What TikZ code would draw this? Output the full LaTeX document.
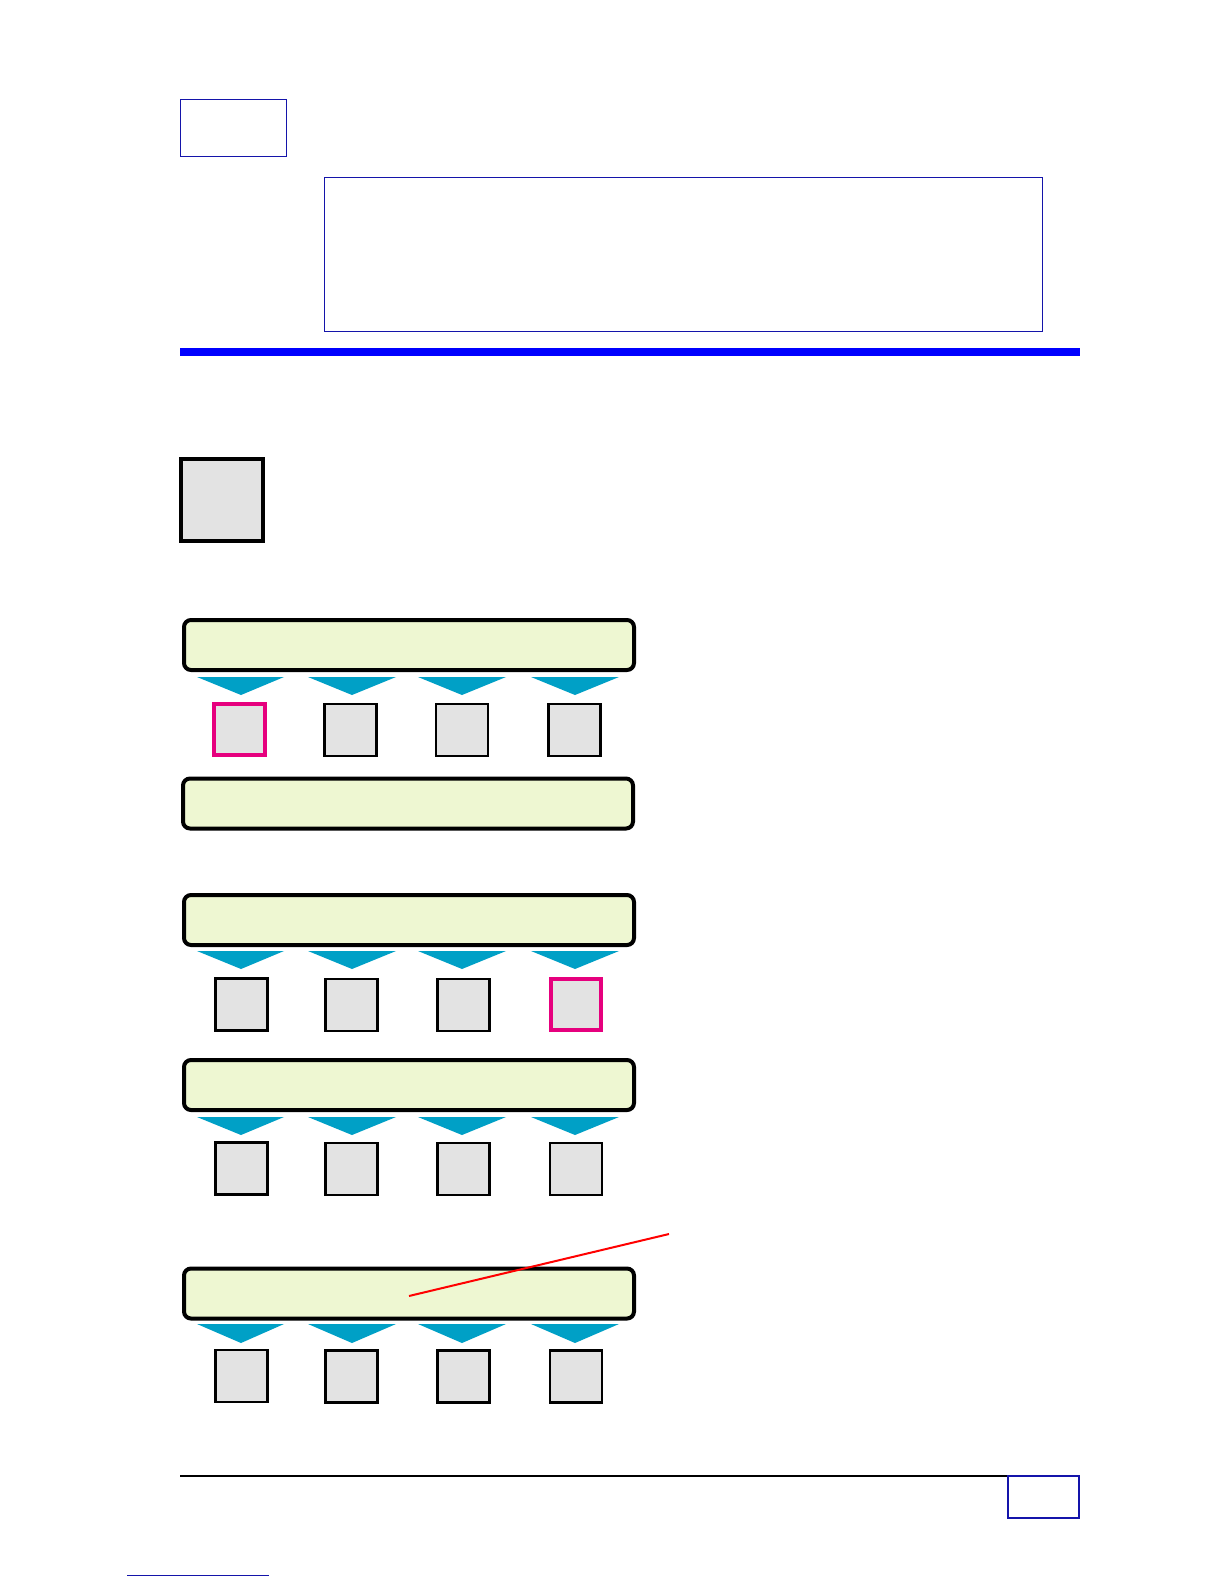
\documentclass[tikz,border=0pt]{standalone}
\begin{document}
\begin{tikzpicture}[x=1pt,y=-1pt,
  bluebox/.style={draw=frameblue,line width=1.3pt,inner sep=0pt,fill=white},
  bar/.style={draw=black,line width=4pt,rounded corners=7pt,fill=barfill,minimum width=450pt,minimum height=50pt,inner sep=0pt},
  cell/.style={draw=black,line width=2.5pt,fill=cellgray,minimum width=52pt,minimum height=52pt,inner sep=0pt},
  hot/.style={cell,draw=hotpink,line width=4pt,minimum width=50.5pt,minimum height=50.5pt},
  tri/.style={fill=tricol,draw=none}]
\definecolor{frameblue}{RGB}{20,20,170}
\definecolor{barfill}{RGB}{238,247,210}
\definecolor{cellgray}{RGB}{227,227,227}
\definecolor{hotpink}{RGB}{230,0,126}
\definecolor{tricol}{RGB}{0,160,198}
\useasboundingbox (0,0) rectangle (1224,1584);
\fill[white] (0,0) rectangle (1224,1584);
% header
\node[bluebox,minimum width=106pt,minimum height=57pt] (t1) at (233.5,128) {};
\node[bluebox,minimum width=718pt,minimum height=154pt] (t2) at (683.5,254.5) {};
\fill[blue] (180,348) rectangle (1080,356);
\node[draw=black,line width=4pt,fill=cellgray,minimum width=82pt,minimum height=82pt,inner sep=0pt] (g) at (222,500) {};
% bars
\node[bar] (b1) at (409,645) {};
\node[bar] (b2) at (408,803.5) {};
\node[bar] (b3) at (409,920) {};
\node[bar] (b4) at (409,1085) {};
\node[bar] (b5) at (409,1293.5) {};
% triangles
\foreach \yt/\yb in {677/695, 951/969, 1117/1135, 1324/1343}{
  \foreach \xa/\xb/\xc in {197/284/241, 308/396/352, 418/506/462, 531/619/575}{
    \fill[tricol] (\xa,\yt) -- (\xb,\yt) -- (\xc,\yb) -- cycle;
  }
}
% cells row 1
\node[hot]  (c11) at (239.5,729.5) {};
\node[cell] (c12) at (350.5,730) {};
\node[cell] (c13) at (462,730) {};
\node[cell] (c14) at (574.5,730) {};
% cells row 3
\node[cell] (c31) at (241.5,1004.5) {};
\node[cell] (c32) at (351.5,1005) {};
\node[cell] (c33) at (463.5,1005) {};
\node[hot]  (c34) at (576,1004.5) {};
% cells row 4
\node[cell] (c41) at (241.5,1168.5) {};
\node[cell] (c42) at (351.5,1169) {};
\node[cell] (c43) at (463.5,1169) {};
\node[cell] (c44) at (576,1169) {};
% cells row 5
\node[cell] (c51) at (241.5,1376) {};
\node[cell] (c52) at (351.5,1376.5) {};
\node[cell] (c53) at (463.5,1376.5) {};
\node[cell] (c54) at (576,1376.5) {};
% red pointer
\coordinate (r1) at (409,1296);
\coordinate (r2) at (669,1234);
\draw[red,line width=2pt] (r1) -- (r2);
% footer
\coordinate (f1) at (180,1476);
\coordinate (f2) at (1080,1476);
\draw[black,line width=1.2pt] (f1) -- (f2);
\node[bluebox,minimum width=71pt,minimum height=42pt] (pg) at (1043.5,1497) {};
\coordinate (u1) at (127,1575);
\coordinate (u2) at (269,1575);
\draw[frameblue,line width=1pt] (u1) -- (u2);
\end{tikzpicture}
\end{document}
